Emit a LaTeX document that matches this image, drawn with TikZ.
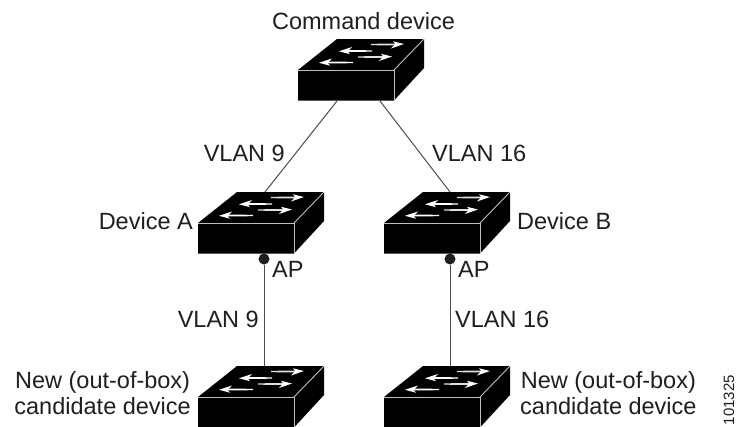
\documentclass[tikz,border=0pt]{standalone}
\usepackage{fontspec}
\setmainfont{Liberation Sans}
\tikzset{
  lbl/.style={inner sep=0pt,font=\fontsize{23.5}{25.5}\selectfont,align=center,text=black!88},
  tinylbl/.style={inner sep=0pt,font=\fontsize{15}{17}\selectfont,rotate=90,text=black!88},
  link/.style={draw=black!70,line width=1pt},
  edgeline/.style={draw=black!25,line width=0.9pt},
  apdot/.style={circle,fill=black!88,inner sep=0pt,minimum size=11pt},
}
% one white arrow: tail x, tip x, y (relative to the switch)
\newcommand{\rarr}[3]{%
  \fill[black!12] (#1,#3-0.7) -- (#2-9,#3-0.9) -- (#2-9,#3+0.9) -- (#1,#3+0.7) -- cycle;
  \fill[white] (#2,#3-0.5) -- (#2-11,#3-3.2) -- (#2-9,#3-0.7) -- (#2-10,#3+0.8) -- (#2-13,#3+4) -- cycle;}
\newcommand{\larr}[3]{%
  \fill[white] (#1,#3-0.7) -- (#2+9,#3-0.9) -- (#2+9,#3+0.9) -- (#1,#3+0.7) -- cycle;
  \fill[white] (#2,#3+0.3) -- (#2+13,#3-4) -- (#2+10,#3-0.8) -- (#2+9,#3+0.8) -- (#2+11,#3+3.2) -- cycle;}
% #1 name, #2 x of front-left, #3 y of front-top
\newcommand{\swbox}[3]{%
  \begin{scope}[shift={(#2,#3)}]
    \fill[black] (0,0) -- (39,-31) -- (126,-31) -- (126,-2) -- (96,30.5) -- (0,30.5) -- cycle;
    \draw[edgeline] (0,0) -- (96,0) -- (96,30.5);
    \draw[edgeline] (96,0) -- (126,-31);
    \rarr{73}{106}{-25.5}
    \larr{74}{41}{-19}
    \rarr{60}{94}{-13}
    \larr{55}{21}{-7.5}
    \coordinate (#1) at (48,15);
  \end{scope}}
\begin{document}
\begin{tikzpicture}[x=1pt,y=-1pt]
\useasboundingbox (0,0) rectangle (736,426);
\fill[white] (0,0) rectangle (736,426);

\coordinate (cL) at (337,101);
\coordinate (cR) at (380,101);
\coordinate (aT) at (265,192);
\coordinate (bT) at (450,192);
\node[apdot] (apA) at (264,259) {};
\node[apdot] (apB) at (450,259) {};
\coordinate (naT) at (264,366);
\coordinate (nbT) at (450,366);
\draw[link] (cL) -- (aT);
\draw[link] (cR) -- (bT);
\draw[link] (apA) -- (naT);
\draw[link] (apB) -- (nbT);

\swbox{cmd}{298}{70}
\swbox{devA}{198}{223}
\swbox{devB}{384}{223}
\swbox{newA}{198}{397}
\swbox{newB}{384}{397}

\node[lbl,anchor=base] (tCmd) at (363.5,29.5) {Command device};
\node[lbl,anchor=base east] (tV9a) at (285,161) {VLAN 9};
\node[lbl,anchor=base west] (tV16a) at (432,161) {VLAN 16};
\node[lbl,anchor=base east] (tA) at (193,229) {Device A};
\node[lbl,anchor=base west] (tB) at (517,229) {Device B};
\node[lbl,anchor=base west] (tAPa) at (272,277) {AP};
\node[lbl,anchor=base west] (tAPb) at (458,277) {AP};
\node[lbl,anchor=base east] (tV9b) at (259,327) {VLAN 9};
\node[lbl,anchor=base west] (tV16b) at (455,327) {VLAN 16};
\node[lbl,anchor=east] (tNewA) at (191,393) {New (out-of-box)\\candidate device};
\node[lbl,anchor=west] (tNewB) at (520,393) {New (out-of-box)\\candidate device};
\node[tinylbl] (tNum) at (729,400) {101325};
\end{tikzpicture}
\end{document}
